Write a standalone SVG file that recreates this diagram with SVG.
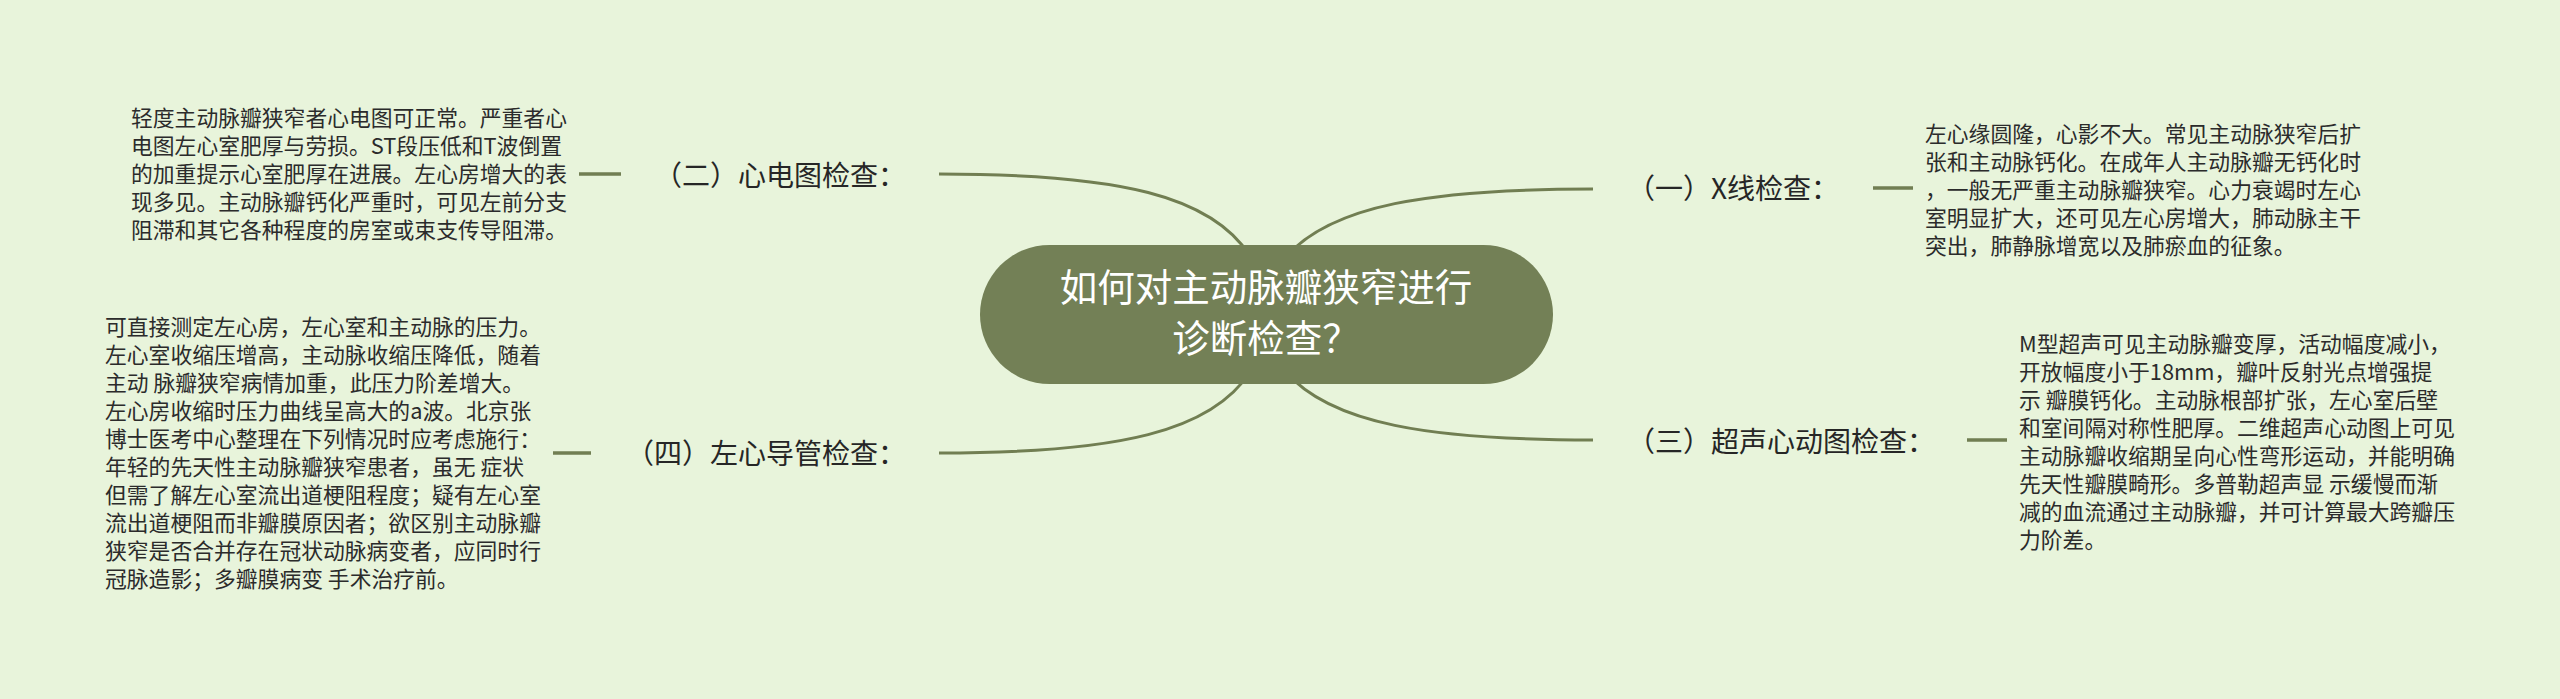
<svg xmlns="http://www.w3.org/2000/svg" width="2560" height="699" viewBox="0 0 2560 699">
<style>
.bg{fill:#e8f4db}
.edge{fill:none;stroke:#717e52;stroke-width:3}
.tick{fill:none;stroke:#717e52;stroke-width:3.5}
.desc{font-family:"Noto Sans CJK SC","Noto Sans",sans-serif;font-size:21.8px;fill:#2b2b2b}
.label{font-family:"Noto Sans CJK SC","Noto Sans",sans-serif;font-size:28px;fill:#262626}
.root{font-family:"Noto Sans CJK SC","Noto Sans",sans-serif;font-size:37.5px;fill:#ffffff;text-anchor:middle}
</style>
<rect class="bg" x="0" y="0" width="2560" height="699"/>
<g id="connectors">
<path class="edge" d="M939 174 C1120 174 1212 196 1250 256"/>
<path class="edge" d="M939 453 C1120 453 1212 431 1250 372"/>
<path class="edge" d="M1593 189 C1430 189 1330 205 1285 258"/>
<path class="edge" d="M1593 440 C1430 440 1330 424 1285 371"/>
<path class="tick" d="M579 174 H621"/>
<path class="tick" d="M553 453 H591"/>
<path class="tick" d="M1873 188 H1913"/>
<path class="tick" d="M1967 440 H2007"/>
</g>
<g id="root">
<rect x="980" y="245" width="573" height="139" rx="69.5" fill="#738056"/>
<text class="root" x="1266" y="301">如何对主动脉瓣狭窄进行</text>
<text class="root" x="1266" y="352">诊断检查？</text>
</g>
<g id="n1">
<text class="label" x="1627" y="199">（一）X线检查：</text>
</g>
<g id="n1d">
<text class="desc" x="1925" y="142">左心缘圆隆，心影不大。常见主动脉狭窄后扩</text>
<text class="desc" x="1925" y="170">张和主动脉钙化。在成年人主动脉瓣无钙化时</text>
<text class="desc" x="1925" y="198">，一般无严重主动脉瓣狭窄。心力衰竭时左心</text>
<text class="desc" x="1925" y="226">室明显扩大，还可见左心房增大，肺动脉主干</text>
<text class="desc" x="1925" y="254">突出，肺静脉增宽以及肺瘀血的征象。</text>
</g>
<g id="n2">
<text class="label" x="906" y="186" text-anchor="end">（二）心电图检查：</text>
</g>
<g id="n2d">
<text class="desc" x="131" y="126">轻度主动脉瓣狭窄者心电图可正常。严重者心</text>
<text class="desc" x="131" y="154">电图左心室肥厚与劳损。ST段压低和T波倒置</text>
<text class="desc" x="131" y="182">的加重提示心室肥厚在进展。左心房增大的表</text>
<text class="desc" x="131" y="210">现多见。主动脉瓣钙化严重时，可见左前分支</text>
<text class="desc" x="131" y="238">阻滞和其它各种程度的房室或束支传导阻滞。</text>
</g>
<g id="n3">
<text class="label" x="1627" y="452">（三）超声心动图检查：</text>
</g>
<g id="n3d">
<text class="desc" x="2019" y="352">M型超声可见主动脉瓣变厚，活动幅度减小，</text>
<text class="desc" x="2019" y="380">开放幅度小于18mm，瓣叶反射光点增强提</text>
<text class="desc" x="2019" y="408">示 瓣膜钙化。主动脉根部扩张，左心室后壁</text>
<text class="desc" x="2019" y="436">和室间隔对称性肥厚。二维超声心动图上可见</text>
<text class="desc" x="2019" y="464">主动脉瓣收缩期呈向心性弯形运动，并能明确</text>
<text class="desc" x="2019" y="492">先天性瓣膜畸形。多普勒超声显 示缓慢而渐</text>
<text class="desc" x="2019" y="520">减的血流通过主动脉瓣，并可计算最大跨瓣压</text>
<text class="desc" x="2019" y="548">力阶差。</text>
</g>
<g id="n4">
<text class="label" x="906" y="464" text-anchor="end">（四）左心导管检查：</text>
</g>
<g id="n4d">
<text class="desc" x="105" y="335">可直接测定左心房，左心室和主动脉的压力。</text>
<text class="desc" x="105" y="363">左心室收缩压增高，主动脉收缩压降低，随着</text>
<text class="desc" x="105" y="391">主动 脉瓣狭窄病情加重，此压力阶差增大。</text>
<text class="desc" x="105" y="419">左心房收缩时压力曲线呈高大的a波。北京张</text>
<text class="desc" x="105" y="447">博士医考中心整理在下列情况时应考虑施行：</text>
<text class="desc" x="105" y="475">年轻的先天性主动脉瓣狭窄患者，虽无 症状</text>
<text class="desc" x="105" y="503">但需了解左心室流出道梗阻程度；疑有左心室</text>
<text class="desc" x="105" y="531">流出道梗阻而非瓣膜原因者；欲区别主动脉瓣</text>
<text class="desc" x="105" y="559">狭窄是否合并存在冠状动脉病变者，应同时行</text>
<text class="desc" x="105" y="587">冠脉造影；多瓣膜病变 手术治疗前。</text>
</g>
</svg>
